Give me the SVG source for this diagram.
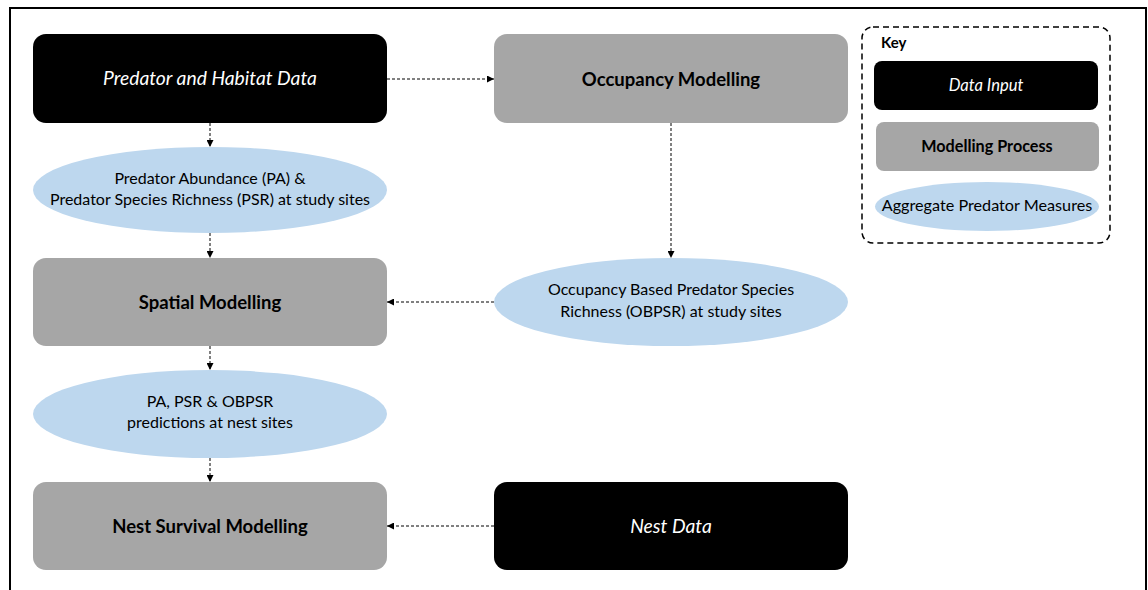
<svg xmlns="http://www.w3.org/2000/svg" width="1148" height="590" viewBox="0 0 1148 590">
<defs>
<style>
.data{fill:#000000}
.proc{fill:#a6a6a6}
.meas{fill:#bdd7ee}
text{font-family:Lato,"Open Sans","Liberation Sans",sans-serif;text-anchor:middle}
.ti{fill:#ffffff;font-style:italic;font-size:19.3px}
.tb{fill:#000000;font-weight:bold;font-size:18.5px}
.tm{fill:#000000;font-size:16px}
.ki{fill:#ffffff;font-style:italic;font-size:16.6px}
.kb{fill:#000000;font-weight:bold;font-size:16.2px}
.km{fill:#000000;font-size:16.2px}
.conn{fill:none;stroke:#000000;stroke-width:1;stroke-dasharray:3 2}
</style>
<marker id="arr" viewBox="0 0 10 10" refX="10" refY="5" markerWidth="7" markerHeight="7" markerUnits="userSpaceOnUse" orient="auto">
<path d="M0,0 L10,5 L0,10 Z" fill="#000000"/>
</marker>
</defs>
<rect x="0" y="0" width="1148" height="590" fill="#ffffff"/>
<rect x="10" y="8" width="1136" height="600" fill="none" stroke="#000000" stroke-width="2"/>

<g id="connectors">
<line class="conn" x1="387" y1="79" x2="494" y2="79" marker-end="url(#arr)"/>
<line class="conn" x1="210" y1="123" x2="210" y2="147" marker-end="url(#arr)"/>
<line class="conn" x1="210" y1="233" x2="210" y2="258" marker-end="url(#arr)"/>
<line class="conn" x1="671" y1="123" x2="671" y2="258" marker-end="url(#arr)"/>
<line class="conn" x1="494" y1="302" x2="387" y2="302" marker-end="url(#arr)"/>
<line class="conn" x1="210" y1="346" x2="210" y2="370" marker-end="url(#arr)"/>
<line class="conn" x1="210" y1="458" x2="210" y2="482" marker-end="url(#arr)"/>
<line class="conn" x1="494" y1="526" x2="387" y2="526" marker-end="url(#arr)"/>
</g>

<g id="predator-habitat-data">
<rect class="data" x="33" y="34" width="354" height="89" rx="13"/>
<text class="ti" x="210" y="85">Predator and Habitat Data</text>
</g>
<g id="occupancy-modelling">
<rect class="proc" x="494" y="34" width="354" height="89" rx="13"/>
<text class="tb" x="671" y="86">Occupancy Modelling</text>
</g>
<g id="pa-psr">
<ellipse class="meas" cx="210" cy="190" rx="177" ry="43"/>
<text class="tm" x="210" y="184">Predator Abundance (PA) &amp;</text>
<text class="tm" x="210" y="205">Predator Species Richness (PSR) at study sites</text>
</g>
<g id="spatial-modelling">
<rect class="proc" x="33" y="258" width="354" height="88" rx="13"/>
<text class="tb" x="210" y="309">Spatial Modelling</text>
</g>
<g id="obpsr">
<ellipse class="meas" cx="671" cy="302" rx="177" ry="44"/>
<text class="tm" x="671" y="295">Occupancy Based Predator Species</text>
<text class="tm" x="671" y="317">Richness (OBPSR) at study sites</text>
</g>
<g id="predictions">
<ellipse class="meas" cx="210" cy="414" rx="177" ry="44"/>
<text class="tm" x="210" y="407">PA, PSR &amp; OBPSR</text>
<text class="tm" x="210" y="428">predictions at nest sites</text>
</g>
<g id="nest-survival-modelling">
<rect class="proc" x="33" y="482" width="354" height="88" rx="13"/>
<text class="tb" x="210" y="533">Nest Survival Modelling</text>
</g>
<g id="nest-data">
<rect class="data" x="494" y="482" width="354" height="88" rx="13"/>
<text class="ti" x="671" y="533">Nest Data</text>
</g>

<g id="key">
<rect x="862" y="27" width="248" height="216" rx="11" fill="none" stroke="#000000" stroke-width="1.5" stroke-dasharray="6 4"/>
<text class="kb" x="881" y="48" style="text-anchor:start;font-size:15px">Key</text>
<g id="key-data-input">
<rect class="data" x="874" y="61" width="224" height="49" rx="8"/>
<text class="ki" x="986" y="91">Data Input</text>
</g>
<g id="key-modelling-process">
<rect class="proc" x="876" y="122" width="223" height="49" rx="8"/>
<text class="kb" x="987" y="152">Modelling Process</text>
</g>
<g id="key-aggregate">
<ellipse class="meas" cx="987" cy="206.5" rx="112" ry="24.5"/>
<text class="km" x="987" y="211">Aggregate Predator Measures</text>
</g>
</g>
</svg>
